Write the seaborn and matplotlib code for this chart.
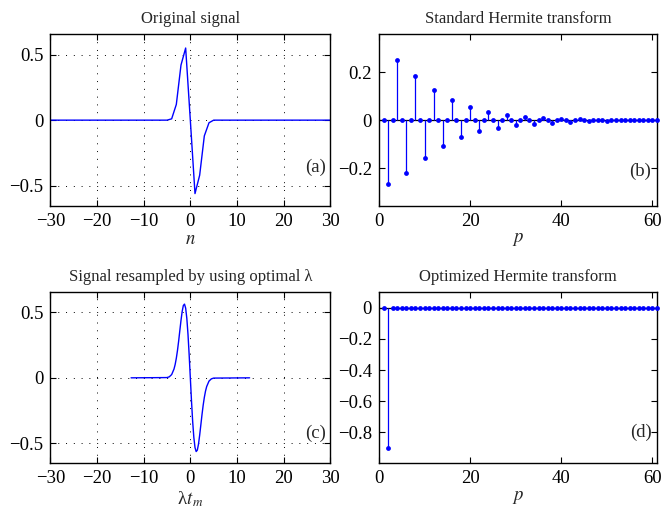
import numpy as np
import pandas as pd
import seaborn as sns
import matplotlib
matplotlib.use("Agg")
from matplotlib import pyplot as plt

# Data
n_vals = list(range(-30, 31))
signal_nonzero = {-4: 0.01, -3: 0.12, -2: 0.42, -1: 0.55, 0: 0.0,
                  1: -0.56, 2: -0.42, 3: -0.12, 4: -0.02}
signal_a = [signal_nonzero.get(n, 0.0) for n in n_vals]

t_vals = [-12.7, -5.0, -4.5, -4.0, -3.5, -3.25, -3.0, -2.75, -2.5, -2.25,
          -2.0, -1.75, -1.5, -1.25, -1.0, -0.75, -0.5, -0.25, 0.0,
          0.25, 0.5, 0.75, 1.0, 1.25, 1.5, 1.75, 2.0, 2.25, 2.5, 2.75,
          3.0, 3.25, 3.5, 4.0, 4.5, 5.0, 12.7]
signal_c = [0.0, 0.002, 0.008, 0.025, 0.067, 0.102, 0.150, 0.210,
            0.282, 0.361, 0.439, 0.507, 0.553, 0.564, 0.533, 0.455,
            0.333, 0.176, 0.0,
            -0.176, -0.333, -0.455, -0.533, -0.564, -0.553, -0.507, -0.439,
            -0.361, -0.282, -0.210, -0.150, -0.102, -0.067, -0.025, -0.008,
            -0.002, 0.0]

p_vals = list(range(1, 62))
coef_even = {2: -0.265, 4: 0.249, 6: -0.222, 8: 0.183, 10: -0.156,
             12: 0.125, 14: -0.106, 16: 0.083, 18: -0.070, 20: 0.054,
             22: -0.045, 24: 0.034, 26: -0.031, 28: 0.023, 30: -0.020,
             32: 0.013, 34: -0.014, 36: 0.008, 38: -0.010, 40: 0.006,
             42: -0.006, 44: 0.003, 46: -0.004, 48: 0.002, 50: -0.002}
coef_b = [coef_even.get(p, 0.0) for p in p_vals]
coef_d = [-0.9 if p == 2 else 0.0 for p in p_vals]

titles = ["Original signal", "Standard Hermite transform",
          "Signal resampled by using optimal \u03bb", "Optimized Hermite transform"]
panel_tags = ["(a)", "(b)", "(c)", "(d)"]
sig_yticks = [-0.5, 0, 0.5]
sig_ylabels = ["\u22120.5", "0", "0.5"]
sig_xticks = [-30, -20, -10, 0, 10, 20, 30]
sig_xlabels = ["\u221230", "\u221220", "\u221210", "0", "10", "20", "30"]
b_yticks = [-0.2, 0, 0.2]
b_ylabels = ["\u22120.2", "0", "0.2"]
d_yticks = [-0.8, -0.6, -0.4, -0.2, 0]
d_ylabels = ["\u22120.8", "\u22120.6", "\u22120.4", "\u22120.2", "0"]
p_xticks = [0, 20, 40, 60]

sns.set_theme(style="white")
plt.rcParams["font.family"] = ["Liberation Serif", "DejaVu Serif"]
plt.rcParams["mathtext.fontset"] = "stix"
plt.rcParams["axes.edgecolor"] = "black"
plt.rcParams["axes.linewidth"] = 1.0

fig = plt.figure(figsize=(6.62, 5.19), dpi=100)
ax_a = fig.add_axes([0.076, 0.603, 0.423, 0.331])
ax_b = fig.add_axes([0.5725, 0.603, 0.42, 0.331])
ax_c = fig.add_axes([0.076, 0.107, 0.423, 0.330])
ax_d = fig.add_axes([0.5725, 0.107, 0.42, 0.330])

blue = "#0000ff"
tick_fs = 13.5
title_fs = 12

# Signals
df_a = pd.DataFrame({"n": n_vals, "x": signal_a})
sns.lineplot(data=df_a, x="n", y="x", ax=ax_a, color=blue, lw=1.0)
df_c = pd.DataFrame({"t": t_vals, "x": signal_c})
sns.lineplot(data=df_c, x="t", y="x", ax=ax_c, color=blue, lw=1.0)

for ax in (ax_a, ax_c):
    ax.set_xlim(-30, 30)
    ax.set_ylim(-0.655, 0.655)
    ax.set_xticks(sig_xticks)
    ax.set_xticklabels(sig_xlabels)
    ax.set_yticks(sig_yticks)
    ax.set_yticklabels(sig_ylabels)
    ax.grid(True, color="black", linestyle=(0, (1, 7)), lw=0.7)
ax_a.set_xlabel(r"$n$", fontsize=tick_fs)
ax_c.set_xlabel("\u03bb$t_{\\,m}$", fontsize=tick_fs)

# Stem plots
for ax, vals in ((ax_b, coef_b), (ax_d, coef_d)):
    ax.vlines(p_vals, 0, vals, color=blue, lw=0.9)
    ax.axhline(0, color="black", lw=0.9, zorder=1.5)
    df = pd.DataFrame({"p": p_vals, "c": vals})
    sns.scatterplot(data=df, x="p", y="c", ax=ax, color=blue, s=12,
                    edgecolor=blue, linewidth=0, zorder=3, clip_on=False)
    ax.set_xlim(0, 61)
    ax.set_xticks(p_xticks)
    ax.set_xlabel(r"$p$", fontsize=tick_fs)

ax_b.set_ylim(-0.358, 0.358)
ax_b.set_yticks(b_yticks)
ax_b.set_yticklabels(b_ylabels)
ax_d.set_ylim(-1.0, 0.1)
ax_d.set_yticks(d_yticks)
ax_d.set_yticklabels(d_ylabels)

tag_pos = [(0.985, 0.225), (0.98, 0.2), (0.985, 0.175), (0.98, 0.18)]
for ax, title, tag, pos in zip((ax_a, ax_b, ax_c, ax_d), titles, panel_tags, tag_pos):
    ax.set_title(title, fontsize=title_fs, pad=8)
    ax.set_ylabel("")
    ax.text(pos[0], pos[1], tag, transform=ax.transAxes, ha="right",
            va="center", fontsize=tick_fs)
    ax.tick_params(direction="in", length=4, width=0.8, top=True, right=True,
                   bottom=True, left=True, labelsize=tick_fs, colors="black",
                   pad=5)
    ax.xaxis.labelpad = 1
    for s in ax.spines.values():
        s.set_color("black")
        s.set_linewidth(1.0)

fig.savefig("out.png", dpi=100)
